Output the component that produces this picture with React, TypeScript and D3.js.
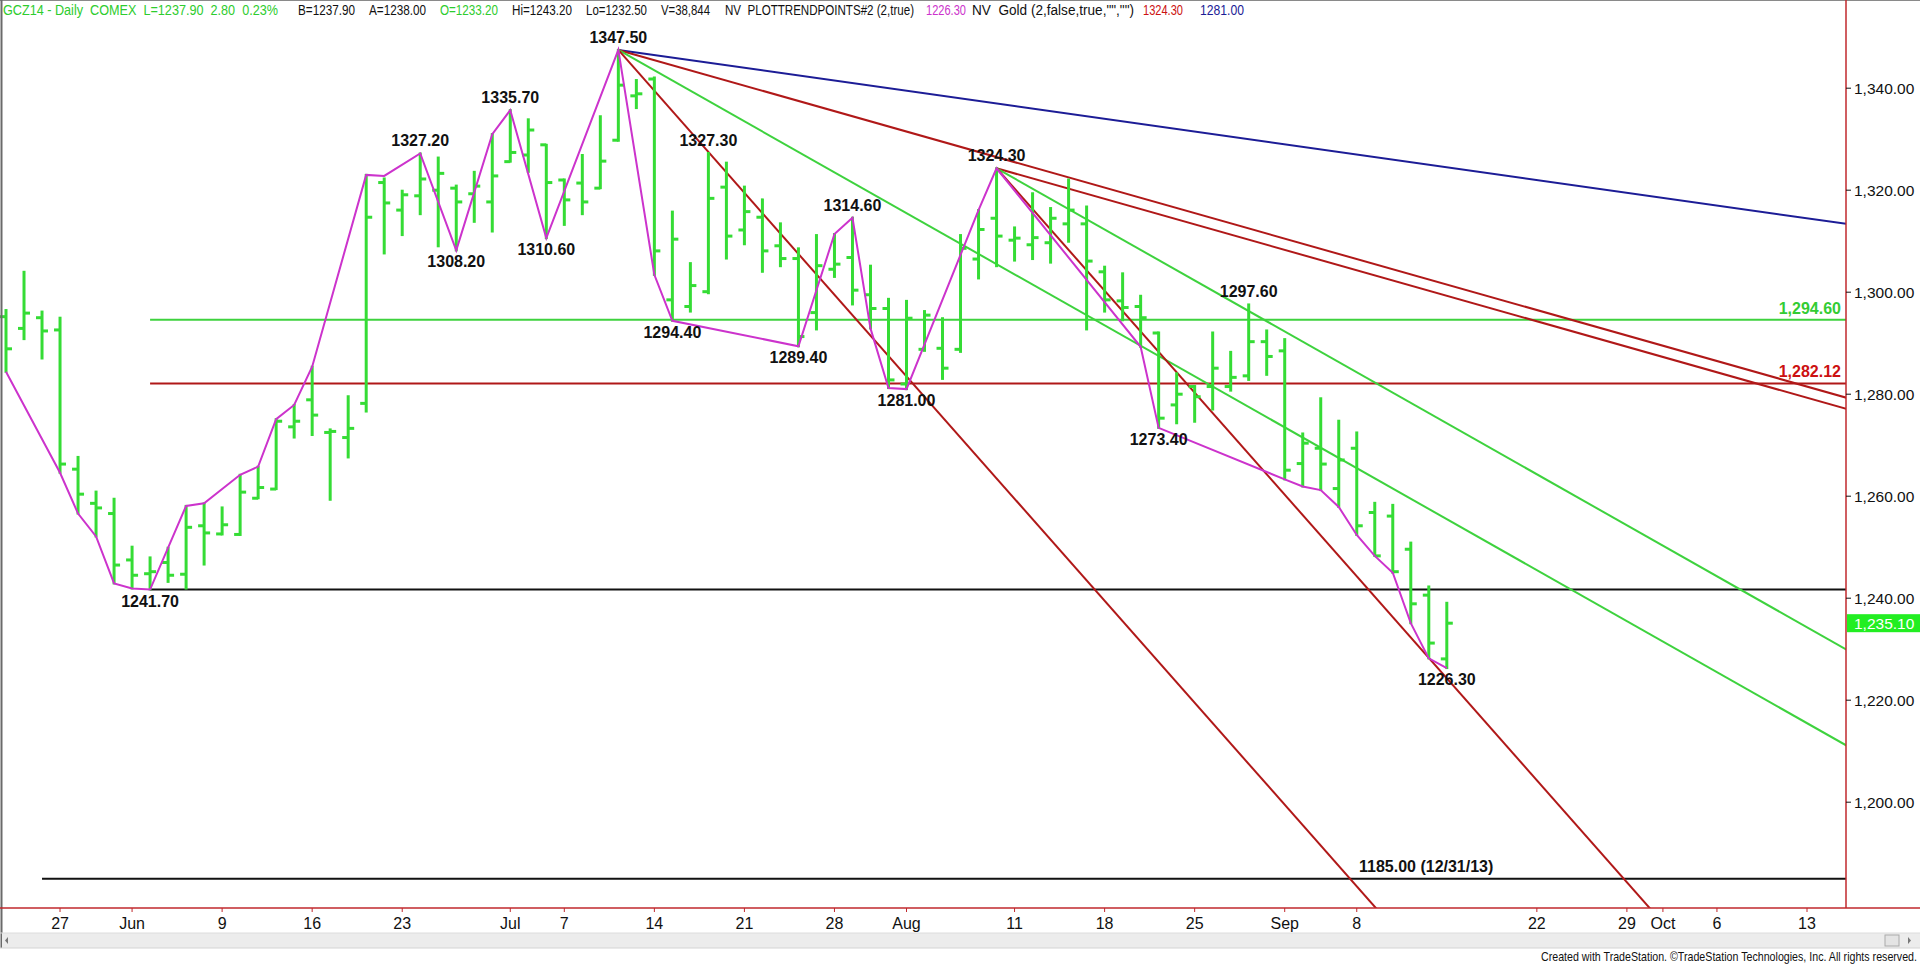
import React from 'react';
import * as d3 from 'd3';

// ---- OHLC data (GCZ14 daily, index 0 = 2014-05-21) ----
const opens = [1295.2,1292.9,1295.0,1292.6,1265.3,1258.6,1256.6,1247.5,1244.8,1247.0,1244.7,1254.2,1252.6,1252.5,1259.6,1261.4,1273.6,1278.9,1272.5,1271.5,1278.2,1321.5,1316.1,1318.9,1320.0,1320.4,1319.3,1317.7,1325.6,1326.9,1328.9,1322.0,1321.4,1320.4,1329.8,1338.5,1341.8,1298.5,1297.2,1300.1,1320.6,1312.2,1314.7,1309.1,1306.6,1296.0,1304.5,1306.8,1299.5,1296.8,1282.0,1288.8,1289.0,1288.8,1306.5,1314.5,1310.2,1309.3,1309.7,1313.4,1313.4,1304.0,1298.3,1297.2,1292.0,1277.9,1281.5,1281.5,1281.5,1283.6,1290.3,1288.5,1266.4,1269.4,1261.5,1269.4,1256.8,1256.1,1249.6,1240.6,1228.1];
const highs = [1296.5,1304.0,1296.2,1295.0,1267.7,1260.9,1259.5,1250.1,1248.0,1249.9,1258.1,1258.6,1257.8,1264.2,1265.8,1275.1,1277.9,1285.4,1273.1,1279.6,1323.0,1322.3,1319.9,1327.2,1326.4,1320.9,1323.6,1331.0,1335.7,1333.9,1328.9,1322.1,1326.9,1334.5,1347.5,1341.6,1342.1,1315.8,1305.7,1327.3,1325.4,1320.7,1318.2,1313.5,1308.6,1311.2,1311.4,1314.6,1305.2,1298.7,1298.3,1296.3,1294.9,1311.2,1316.1,1324.3,1312.7,1319.4,1316.5,1322.1,1316.8,1305.0,1303.7,1299.3,1292.1,1284.1,1281.6,1292.1,1288.3,1297.6,1292.5,1290.8,1272.3,1279.2,1274.8,1272.5,1258.7,1258.3,1250.9,1242.3,1239.1];
const lows = [1284.4,1290.8,1287.0,1264.6,1256.6,1252.1,1242.9,1241.9,1241.7,1243.2,1241.9,1246.6,1252.5,1252.4,1259.6,1261.4,1271.5,1272.0,1259.3,1267.6,1276.6,1307.6,1311.2,1315.3,1309.0,1308.2,1313.8,1311.9,1325.6,1323.6,1310.6,1313.2,1315.3,1320.4,1329.7,1336.1,1303.4,1294.4,1296.2,1299.8,1306.6,1309.4,1304.0,1305.1,1289.4,1292.7,1303.0,1297.6,1292.9,1281.2,1281.0,1288.5,1283.0,1288.3,1302.7,1305.1,1306.2,1306.5,1305.8,1309.9,1292.7,1296.2,1294.5,1289.3,1273.4,1274.3,1274.6,1277.0,1280.7,1282.8,1283.8,1263.3,1261.9,1261.2,1257.9,1252.4,1248.3,1245.0,1235.1,1228.2,1226.3];
const closes = [1288.9,1295.9,1292.4,1266.3,1260.4,1257.7,1246.5,1244.5,1245.2,1244.5,1253.9,1252.8,1254.4,1260.8,1261.7,1274.7,1274.7,1275.9,1272.7,1273.3,1314.7,1317.5,1319.1,1322.2,1323.3,1317.7,1320.8,1322.8,1327.4,1331.8,1321.5,1318.1,1317.7,1325.7,1340.6,1338.9,1308.1,1310.4,1301.3,1318.4,1311.0,1315.8,1308.1,1306.6,1291.3,1305.2,1305.5,1300.4,1296.8,1282.8,1294.9,1295.5,1285.1,1308.6,1312.3,1311.0,1310.6,1310.7,1314.5,1316.1,1306.1,1298.5,1297.0,1295.0,1275.3,1280.0,1279.5,1285.1,1283.3,1290.3,1287.4,1265.1,1270.4,1266.3,1267.1,1254.2,1248.3,1245.2,1238.9,1231.2,1235.1];

// ---- axes ----
const xTickIdx = [3, 7, 12, 17, 22, 28, 31, 36, 41, 46, 50, 56, 61, 66, 71, 75, 85, 90, 92, 95, 100];
const xTickLabels = ['27', 'Jun', '9', '16', '23', 'Jul', '7', '14', '21', '28', 'Aug', '11', '18', '25', 'Sep', '8', '22', '29', 'Oct', '6', '13'];
const yTicks = [1200, 1220, 1240, 1260, 1280, 1300, 1320, 1340];
const lastPrice = 1235.1;

// ---- swing pivots (labels) ----
const pivotIdx = [8, 23, 25, 28, 30, 34, 37, 39, 44, 47, 50, 55, 64, 69, 80];
const pivotPrice = [1241.7, 1327.2, 1308.2, 1335.7, 1310.6, 1347.5, 1294.4, 1327.3, 1289.4, 1314.6, 1281.0, 1324.3, 1273.4, 1297.6, 1226.3];
const pivotKind = ['L', 'H', 'L', 'H', 'L', 'H', 'L', 'H', 'L', 'H', 'L', 'H', 'L', 'H', 'L'];

// ---- magenta trend-point line ----
const swingIdx = [0, 3, 4, 5, 6, 7, 8, 10, 11, 13, 14, 15, 16, 17, 20, 21, 23, 25, 27, 28, 30, 34, 36, 37, 44, 46, 47, 48, 49, 50, 54, 55, 63, 64, 71, 72, 73, 74, 75, 76, 77, 78, 79, 80];
const swingPrice = [1284.4, 1264.6, 1256.6, 1252.1, 1242.9, 1241.9, 1241.7, 1258.1, 1258.6, 1264.2, 1265.8, 1275.1, 1277.9, 1285.4, 1323.0, 1322.8, 1327.2, 1308.2, 1331.0, 1335.7, 1310.6, 1347.5, 1303.4, 1294.4, 1289.4, 1311.4, 1314.6, 1292.9, 1281.2, 1281.0, 1316.1, 1324.3, 1289.3, 1273.4, 1263.3, 1261.9, 1261.2, 1257.9, 1252.4, 1248.3, 1245.0, 1235.1, 1228.2, 1226.3];

// ---- horizontal levels ----
const levelPrice = [1294.6, 1282.12, 1241.7, 1185.0];
const levelStartIdx = [8, 8, 8, 2];
const levelLabel = ['1,294.60', '1,282.12', '', '1185.00 (12/31/13)'];

// ---- Gann fan lines ($ per bar) ----
const fanIdx = [34, 34, 34, 34, 55, 55, 55];
const fanPrice = [1347.5, 1347.5, 1347.5, 1347.5, 1324.3, 1324.3, 1324.3];
const fanSlope = [-0.5, -1, -2, -4, -1, -2, -4];

// ---- status line texts ----
const headerTexts = [
  'GCZ14 - Daily  COMEX  L=1237.90  2.80  0.23%',
  'B=1237.90',
  'A=1238.00',
  'O=1233.20',
  'Hi=1243.20',
  'Lo=1232.50',
  'V=38,844',
  'NV  PLOTTRENDPOINTS#2 (2,true)',
  '1226.30',
  'NV  Gold (2,false,true,"","")',
  '1324.30',
  '1281.00',
];
const creditText = 'Created with TradeStation. ©TradeStation Technologies, Inc. All rights reserved.';

const W = 1920;
const H = 964;
const PLOT_R = 1846;
const PLOT_B = 908;

const BAR_GREEN = '#35dc35';
const MAGENTA = '#cc33cc';
const DKRED = '#b01818';
const LINE_GREEN = '#3ed23e';
const BLUE = '#1c1c96';
const fanColor = [BLUE, DKRED, LINE_GREEN, DKRED, DKRED, LINE_GREEN, DKRED];
const levelColor = [LINE_GREEN, DKRED, '#111', '#111'];
const levelLabelColor = ['#33cc33', '#cc1111', '#111', '#111'];

// layout of the status line: [x start, x end, colour]
const headerLayout: [number, number, string][] = [
  [3, 278, '#2ecc2e'],
  [298, 355, '#111'],
  [369, 426, '#111'],
  [440, 498, '#2ecc2e'],
  [512, 572, '#111'],
  [586, 647, '#111'],
  [661, 710, '#111'],
  [725, 914, '#111'],
  [926, 966, '#cc33cc'],
  [972, 1134, '#111'],
  [1143, 1183, '#cc1111'],
  [1200, 1244, '#1c1c96'],
];

const ARIAL = '"Liberation Sans", Arial, sans-serif';

export default function App() {
  const x = d3.scaleLinear().domain([0, 100]).range([6, 6 + 1801]);
  const y = d3.scaleLinear().domain([1200, 1340]).range([802.2, 88.2]);
  const fmt = d3.format(',.2f');

  const swingLine = d3
    .line<number>()
    .x((_, i) => x(swingIdx[i]))
    .y((_, i) => y(swingPrice[i]));

  const endIdx = x.invert(PLOT_R + 5);

  return (
    <svg
      width={W}
      height={H}
      style={{ position: 'absolute', left: 0, top: 0, display: 'block', background: '#fff' }}
    >
      <defs>
        <clipPath id="plot">
          <rect x={0} y={0} width={PLOT_R} height={PLOT_B} />
        </clipPath>
      </defs>
      <rect x={0} y={0} width={W} height={H} fill="#fff" />

      <g clipPath="url(#plot)">
        {levelPrice.map((p, i) => (
          <line
            key={'lv' + i}
            x1={x(levelStartIdx[i])}
            x2={PLOT_R}
            y1={y(p)}
            y2={y(p)}
            stroke={levelColor[i]}
            strokeWidth={2}
          />
        ))}
        {fanIdx.map((a, i) => (
          <line
            key={'fan' + i}
            x1={x(a)}
            y1={y(fanPrice[i])}
            x2={x(endIdx)}
            y2={y(fanPrice[i] + fanSlope[i] * (endIdx - a))}
            stroke={fanColor[i]}
            strokeWidth={2}
          />
        ))}
        {opens.map((o, i) => {
          const cx = x(i);
          return (
            <g key={'b' + i} stroke={BAR_GREEN} strokeWidth={3}>
              <line x1={cx} x2={cx} y1={y(highs[i]) - 1} y2={y(lows[i]) + 1} />
              <line x1={cx - 6} x2={cx} y1={y(o)} y2={y(o)} />
              <line x1={cx} x2={cx + 6} y1={y(closes[i])} y2={y(closes[i])} />
            </g>
          );
        })}
        <path d={swingLine(swingIdx) || ''} fill="none" stroke={MAGENTA} strokeWidth={2} />
      </g>

      {levelLabel.map((t, i) =>
        t === '' ? null : i < 2 ? (
          <text
            key={'ll' + i}
            x={1841}
            y={y(levelPrice[i]) - 6}
            textAnchor="end"
            fontFamily={ARIAL}
            fontWeight="bold"
            fontSize={16}
            fill={levelLabelColor[i]}
          >
            {t}
          </text>
        ) : (
          <text
            key={'ll' + i}
            x={1359}
            y={y(levelPrice[i]) - 7}
            fontFamily={ARIAL}
            fontWeight="bold"
            fontSize={16}
            fill={levelLabelColor[i]}
          >
            {t}
          </text>
        )
      )}

      {pivotIdx.map((pi, i) => (
        <text
          key={'pv' + i}
          x={x(pi)}
          y={pivotKind[i] === 'H' ? y(pivotPrice[i]) - 7 : y(pivotPrice[i]) + 17}
          textAnchor="middle"
          fontFamily={ARIAL}
          fontWeight="bold"
          fontSize={16}
          fill="#111"
        >
          {pivotPrice[i].toFixed(2)}
        </text>
      ))}

      {/* frame */}
      <line x1={0} x2={W} y1={0.5} y2={0.5} stroke="#8a8a8a" strokeWidth={1} />
      <line x1={1.5} x2={1.5} y1={0} y2={948} stroke="#6a6a6a" strokeWidth={2} />

      {/* price axis */}
      <line x1={PLOT_R} x2={PLOT_R} y1={0} y2={PLOT_B} stroke="#c0282d" strokeWidth={1.5} />
      {yTicks.map((t) => (
        <g key={'yt' + t}>
          <line x1={PLOT_R} x2={PLOT_R + 5} y1={y(t)} y2={y(t)} stroke="#111" strokeWidth={1} />
          <text x={1854} y={y(t) + 5.5} fontFamily={ARIAL} fontSize={15.5} fill="#111">
            {fmt(t)}
          </text>
        </g>
      ))}
      <rect x={PLOT_R + 1} y={y(lastPrice) - 9} width={W - PLOT_R - 1} height={18} fill="#22ee22" />
      <text x={1854} y={y(lastPrice) + 5.5} fontFamily={ARIAL} fontSize={15.5} fill="#fff">
        {fmt(lastPrice)}
      </text>

      {/* time axis */}
      <line x1={0} x2={W} y1={PLOT_B} y2={PLOT_B} stroke="#c0282d" strokeWidth={1.5} />
      {xTickIdx.map((ti, i) => (
        <g key={'xt' + i}>
          <line x1={x(ti)} x2={x(ti)} y1={PLOT_B} y2={PLOT_B + 4} stroke="#c0282d" strokeWidth={1} />
          <text x={x(ti)} y={929} textAnchor="middle" fontFamily={ARIAL} fontSize={16} fill="#111">
            {xTickLabels[i]}
          </text>
        </g>
      ))}

      {/* scrollbar */}
      <rect x={2} y={933} width={W - 2} height={15} fill="#ececec" />
      <line x1={0} x2={W} y1={933} y2={933} stroke="#dcdcdc" />
      <line x1={0} x2={W} y1={948} y2={948} stroke="#d4d4d4" />
      <path d="M8,937 L5,940.5 L8,944 Z" fill="#777" />
      <rect x={1885} y={935} width={14} height={11} fill="#e4e4e4" stroke="#aaa" />
      <path d="M1908,937 L1911,940.5 L1908,944 Z" fill="#777" />

      {/* credits (condensed face emulated by a vertical stretch) */}
      <text
        transform="translate(1541,961) scale(1,1.19)"
        x={0}
        y={0}
        textLength={376}
        lengthAdjust="spacingAndGlyphs"
        fontFamily={ARIAL}
        fontSize={10.5}
        fill="#111"
      >
        {creditText}
      </text>

      {/* status line (condensed face emulated by a vertical stretch) */}
      {headerTexts.map((t, i) => (
        <text
          key={'h' + i}
          transform={`translate(${headerLayout[i][0]},15) scale(1,1.27)`}
          x={0}
          y={0}
          textLength={headerLayout[i][1] - headerLayout[i][0]}
          lengthAdjust="spacingAndGlyphs"
          fontFamily={ARIAL}
          fontSize={11}
          fill={headerLayout[i][2]}
          style={{ whiteSpace: 'pre' }}
        >
          {t}
        </text>
      ))}
    </svg>
  );
}
